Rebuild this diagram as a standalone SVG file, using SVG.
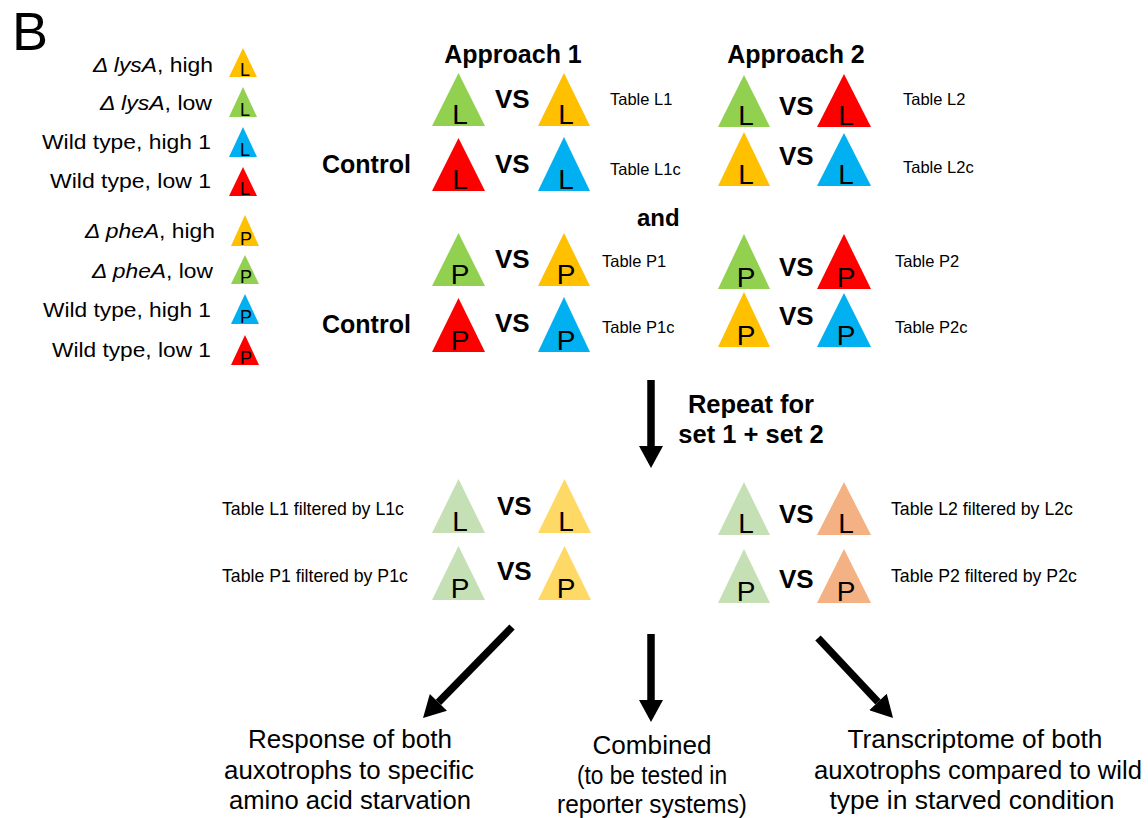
<svg xmlns="http://www.w3.org/2000/svg" width="1148" height="818" viewBox="0 0 1148 818">
<style>
text{font-family:"Liberation Sans",Arial,sans-serif;fill:#000}
.b{font-weight:bold}
.i{font-style:italic}
.lg{font-size:20px;text-anchor:end}
.tl{font-size:16.5px}
.fl{font-size:17.7px}
.vs{font-size:26px;font-weight:bold}
.hd{font-size:25px;font-weight:bold;text-anchor:middle}
.ltr{font-size:28px;text-anchor:middle}
.sl{font-size:18px;text-anchor:middle}
.bt{font-size:26px;text-anchor:middle}
.g{fill:#92D050}.y{fill:#FFC000}.r{fill:#FF0000}.c{fill:#00B0F0}
.lgr{fill:#C5E0B4}.ly{fill:#FFD966}.sa{fill:#F4B183}
.arr{stroke:#000;stroke-width:7.5;fill:none}
</style>
<defs>
<marker id="ah" markerUnits="userSpaceOnUse" markerWidth="24" markerHeight="24" viewBox="0 0 22 24" refX="0" refY="12" orient="auto">
<path d="M0,0 L22,12 L0,24 z" fill="#000"/>
</marker>
</defs>

<text x="12" y="50" style="font-size:54px">B</text>

<g id="legend">
<text class="lg" x="213" y="72" textLength="120" lengthAdjust="spacingAndGlyphs"><tspan class="i">Δ lysA</tspan>, high</text>
<text class="lg" x="212" y="110" textLength="112" lengthAdjust="spacingAndGlyphs"><tspan class="i">Δ lysA</tspan>, low</text>
<text class="lg" x="211" y="149" textLength="169" lengthAdjust="spacingAndGlyphs">Wild type,  high 1</text>
<text class="lg" x="211" y="188" textLength="161" lengthAdjust="spacingAndGlyphs">Wild type,  low 1</text>
<text class="lg" x="215" y="238" textLength="130" lengthAdjust="spacingAndGlyphs"><tspan class="i">Δ pheA</tspan>, high</text>
<text class="lg" x="213" y="278" textLength="121" lengthAdjust="spacingAndGlyphs"><tspan class="i">Δ pheA</tspan>, low</text>
<text class="lg" x="211" y="317" textLength="168" lengthAdjust="spacingAndGlyphs">Wild type,  high 1</text>
<text class="lg" x="211" y="357" textLength="159" lengthAdjust="spacingAndGlyphs">Wild type,  low 1</text>
<polygon class="y" points="229,77 243,48 257,77"/><text class="sl" x="245" y="76">L</text>
<polygon class="g" points="229,117 243,87 257,117"/><text class="sl" x="245" y="116">L</text>
<polygon class="c" points="229,157 243,127 257,157"/><text class="sl" x="245" y="156">L</text>
<polygon class="r" points="229,196 243,167 257,196"/><text class="sl" x="245" y="195">L</text>
<polygon class="y" points="231,246 245,215 259,246"/><text class="sl" x="246" y="245">P</text>
<polygon class="g" points="231,284 245,255 259,284"/><text class="sl" x="246" y="283">P</text>
<polygon class="c" points="231,324 245,294 259,324"/><text class="sl" x="246" y="323">P</text>
<polygon class="r" points="231,365 245,335 259,365"/><text class="sl" x="246" y="364">P</text>
</g>

<g id="headers">
<text class="hd" x="513" y="63">Approach 1</text>
<text class="hd" x="796" y="63">Approach 2</text>
<text class="b" x="322" y="173" style="font-size:25px">Control</text>
<text class="b" x="322" y="333" style="font-size:25px">Control</text>
<text class="b" x="637" y="226" style="font-size:24px">and</text>
</g>

<g id="a1-L1">
<polygon class="g" points="432,126 458.5,73 485,126"/><text class="ltr" x="460" y="124">L</text>
<text class="vs" x="495" y="108">VS</text>
<polygon class="y" points="538,126 564,73 590,126"/><text class="ltr" x="566" y="124">L</text>
<text class="tl" x="610" y="105">Table L1</text>
</g>
<g id="a1-L1c">
<polygon class="r" points="432,191 458.5,138 485,191"/><text class="ltr" x="460" y="189">L</text>
<text class="vs" x="495" y="173">VS</text>
<polygon class="c" points="538,191 564,137 590,191"/><text class="ltr" x="566" y="189">L</text>
<text class="tl" x="610" y="175">Table L1c</text>
</g>
<g id="a2-L2">
<polygon class="g" points="718,127 744,75 770,127"/><text class="ltr" x="746" y="125">L</text>
<text class="vs" x="779" y="115">VS</text>
<polygon class="r" points="817,127 844,74 871,127"/><text class="ltr" x="846" y="125">L</text>
<text class="tl" x="903" y="105">Table L2</text>
</g>
<g id="a2-L2c">
<polygon class="y" points="718,186 744,132 770,186"/><text class="ltr" x="746" y="184">L</text>
<text class="vs" x="779" y="165">VS</text>
<polygon class="c" points="817,186 844,133 871,186"/><text class="ltr" x="846" y="184">L</text>
<text class="tl" x="903" y="173">Table L2c</text>
</g>
<g id="a1-P1">
<polygon class="g" points="432,286 458.5,233 485,286"/><text class="ltr" x="460" y="284">P</text>
<text class="vs" x="495" y="268">VS</text>
<polygon class="y" points="538,286 564,233 590,286"/><text class="ltr" x="566" y="284">P</text>
<text class="tl" x="602" y="267">Table P1</text>
</g>
<g id="a1-P1c">
<polygon class="r" points="432,352 458.5,298 485,352"/><text class="ltr" x="460" y="350">P</text>
<text class="vs" x="495" y="332">VS</text>
<polygon class="c" points="538,352 564,297 590,352"/><text class="ltr" x="566" y="350">P</text>
<text class="tl" x="602" y="333">Table P1c</text>
</g>
<g id="a2-P2">
<polygon class="g" points="718,289 744,234 770,289"/><text class="ltr" x="746" y="287">P</text>
<text class="vs" x="779" y="276">VS</text>
<polygon class="r" points="817,289 844,234 871,289"/><text class="ltr" x="846" y="287">P</text>
<text class="tl" x="895" y="267">Table P2</text>
</g>
<g id="a2-P2c">
<polygon class="y" points="718,347 744,292 770,347"/><text class="ltr" x="746" y="345">P</text>
<text class="vs" x="779" y="325">VS</text>
<polygon class="c" points="817,347 844,293 871,347"/><text class="ltr" x="846" y="345">P</text>
<text class="tl" x="895" y="333">Table P2c</text>
</g>

<g id="repeat">
<text class="hd" x="751" y="413" style="font-size:25.5px">Repeat for</text>
<text class="hd" x="751" y="443" style="font-size:25.5px">set 1 + set 2</text>
</g>

<g id="f-L1">
<text class="fl" x="222" y="515">Table L1 filtered by L1c</text>
<polygon class="lgr" points="432,533 458.5,479 485,533"/><text class="ltr" x="460" y="531">L</text>
<text class="vs" x="497" y="515">VS</text>
<polygon class="ly" points="538,533 564.5,479 591,533"/><text class="ltr" x="566" y="531">L</text>
</g>
<g id="f-P1">
<text class="fl" x="222" y="582">Table P1 filtered by P1c</text>
<polygon class="lgr" points="432,600 458.5,546 485,600"/><text class="ltr" x="460" y="598">P</text>
<text class="vs" x="497" y="580">VS</text>
<polygon class="ly" points="538,600 564.5,546 591,600"/><text class="ltr" x="566" y="598">P</text>
</g>
<g id="f-L2">
<polygon class="lgr" points="718,535 744,482 770,535"/><text class="ltr" x="746" y="533">L</text>
<text class="vs" x="779" y="523">VS</text>
<polygon class="sa" points="817,535 844,482 871,535"/><text class="ltr" x="846" y="533">L</text>
<text class="fl" x="891" y="515">Table L2 filtered by L2c</text>
</g>
<g id="f-P2">
<polygon class="lgr" points="718,603 744,549 770,603"/><text class="ltr" x="746" y="601">P</text>
<text class="vs" x="779" y="588">VS</text>
<polygon class="sa" points="817,603 844,549 871,603"/><text class="ltr" x="846" y="601">P</text>
<text class="fl" x="891" y="582">Table P2 filtered by P2c</text>
</g>

<g id="outcome-left">
<text class="bt" x="350" y="748" textLength="204" lengthAdjust="spacingAndGlyphs">Response of both</text>
<text class="bt" x="349" y="779" textLength="250" lengthAdjust="spacingAndGlyphs">auxotrophs to specific</text>
<text class="bt" x="350" y="809" textLength="242" lengthAdjust="spacingAndGlyphs">amino acid starvation</text>
</g>
<g id="outcome-mid">
<text class="bt" x="652" y="754" textLength="119" lengthAdjust="spacingAndGlyphs">Combined</text>
<text class="bt" x="652" y="784" textLength="150" lengthAdjust="spacingAndGlyphs">(to be tested in</text>
<text class="bt" x="652" y="813" textLength="190" lengthAdjust="spacingAndGlyphs">reporter systems)</text>
</g>
<g id="outcome-right">
<text class="bt" x="975" y="748" textLength="255" lengthAdjust="spacingAndGlyphs">Transcriptome of both</text>
<text class="bt" x="978" y="779" textLength="328" lengthAdjust="spacingAndGlyphs">auxotrophs compared to wild</text>
<text class="bt" x="972" y="809" textLength="285" lengthAdjust="spacingAndGlyphs">type in starved condition</text>
</g>

<g id="connectors">
<line class="arr" x1="651" y1="380" x2="651" y2="446" marker-end="url(#ah)"/>
<line class="arr" x1="512" y1="627" x2="438.4" y2="702.3" marker-end="url(#ah)"/>
<line class="arr" x1="651" y1="634" x2="651" y2="700" marker-end="url(#ah)"/>
<line class="arr" x1="818" y1="638" x2="878" y2="702" marker-end="url(#ah)"/>
</g>
</svg>
